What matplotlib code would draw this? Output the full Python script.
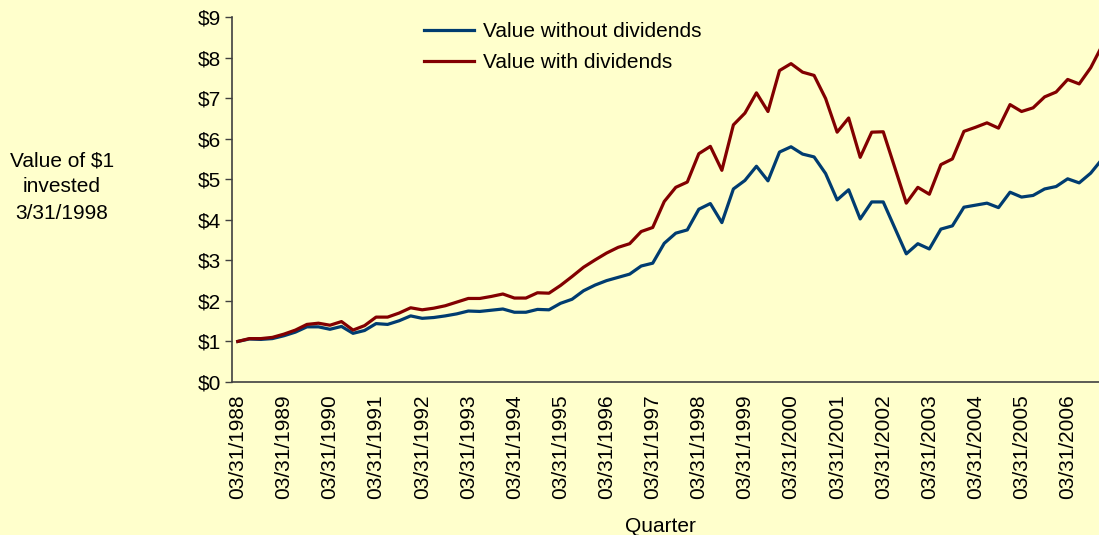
import numpy as np
import pandas as pd
import matplotlib
matplotlib.use("Agg")
import matplotlib.pyplot as plt

plt.rcParams['font.family'] = ['Liberation Sans', 'DejaVu Sans']

# quarterly values, 3/31/1988 .. 12/31/2006
without_div = [1.00, 1.06, 1.05, 1.07, 1.14, 1.23, 1.36, 1.36, 1.30, 1.37,
               1.20, 1.27, 1.44, 1.42, 1.51, 1.63, 1.57, 1.59, 1.63, 1.68,
               1.75, 1.74, 1.77, 1.80, 1.72, 1.72, 1.79, 1.78, 1.94, 2.04,
               2.25, 2.39, 2.50, 2.58, 2.66, 2.86, 2.93, 3.42, 3.67, 3.75,
               4.26, 4.40, 3.93, 4.76, 4.97, 5.32, 4.96, 5.67, 5.80, 5.62,
               5.55, 5.14, 4.49, 4.74, 4.02, 4.44, 4.44, 3.80, 3.16, 3.41,
               3.28, 3.77, 3.85, 4.31, 4.36, 4.41, 4.30, 4.68, 4.56, 4.60,
               4.76, 4.82, 5.01, 4.91, 5.15, 5.50]
with_div = [1.00, 1.07, 1.07, 1.10, 1.18, 1.28, 1.42, 1.45, 1.40, 1.49,
            1.28, 1.39, 1.60, 1.60, 1.70, 1.83, 1.78, 1.82, 1.88, 1.97,
            2.06, 2.06, 2.11, 2.17, 2.07, 2.07, 2.20, 2.19, 2.38, 2.60,
            2.83, 3.01, 3.18, 3.32, 3.41, 3.71, 3.81, 4.45, 4.80, 4.93,
            5.63, 5.81, 5.22, 6.34, 6.63, 7.13, 6.67, 7.68, 7.85, 7.64,
            7.56, 6.99, 6.16, 6.51, 5.54, 6.16, 6.17, 5.29, 4.41, 4.80,
            4.63, 5.36, 5.50, 6.18, 6.28, 6.39, 6.26, 6.84, 6.67, 6.76,
            7.03, 7.15, 7.46, 7.35, 7.75, 8.30]

quarters = pd.date_range("1988-03-31", periods=len(without_div), freq="QE")
quarter_labels = [d.strftime("%m/%d/%Y") for d in quarters]
y_ticks = list(range(0, 10))

bg = '#FFFFCC'
blue = '#003C70'
red = '#820000'

fig = plt.figure(figsize=(10.99, 5.35), dpi=100, facecolor=bg)
W, H = 1099, 535
# axis area in pixels: x from 232 to ~1108, y from 17 to 382
ax = fig.add_axes([232 / W, 1 - 382 / H, (1108 - 232) / W, (382 - 17) / H])
ax.set_facecolor(bg)

x = np.arange(len(quarters))
ax.plot(x, without_div, color=blue, lw=2.3, label='Value without dividends')
ax.plot(x, with_div, color=red, lw=2.3, label='Value with dividends')

ax.set_xlim(-0.5, len(quarters) - 0.5)
ax.set_ylim(0, 9)
ax.set_yticks(y_ticks)
ax.set_yticklabels(['$%d' % v for v in y_ticks], fontsize=15)

march = [i for i, d in enumerate(quarters) if d.month == 3]
ax.set_xticks(march)
ax.set_xticklabels([quarter_labels[i] for i in march], rotation=90, fontsize=15)
ax.tick_params(axis='x', length=0, pad=9)
ax.tick_params(axis='y', length=5, width=1, color='#404040', pad=3)

for s in ['top', 'right']:
    ax.spines[s].set_visible(False)
for s in ['left', 'bottom']:
    ax.spines[s].set_color('#404040')
    ax.spines[s].set_linewidth(1.2)

fig.text(62 / W, 1 - 187 / H, 'Value of $1\ninvested\n3/31/1998', ha='center', va='center',
         fontsize=15, linespacing=1.5)
fig.text(660 / W, 1 - 526 / H, 'Quarter', ha='center', va='center', fontsize=15)

fig.legend(loc='upper left', bbox_to_anchor=(418 / W, 1 - 16 / H), frameon=False,
           fontsize=15, handlelength=2.4, handletextpad=0.4, labelspacing=0.58,
           borderaxespad=0, borderpad=0.3)

fig.savefig('out.png', dpi=100, facecolor=bg)
